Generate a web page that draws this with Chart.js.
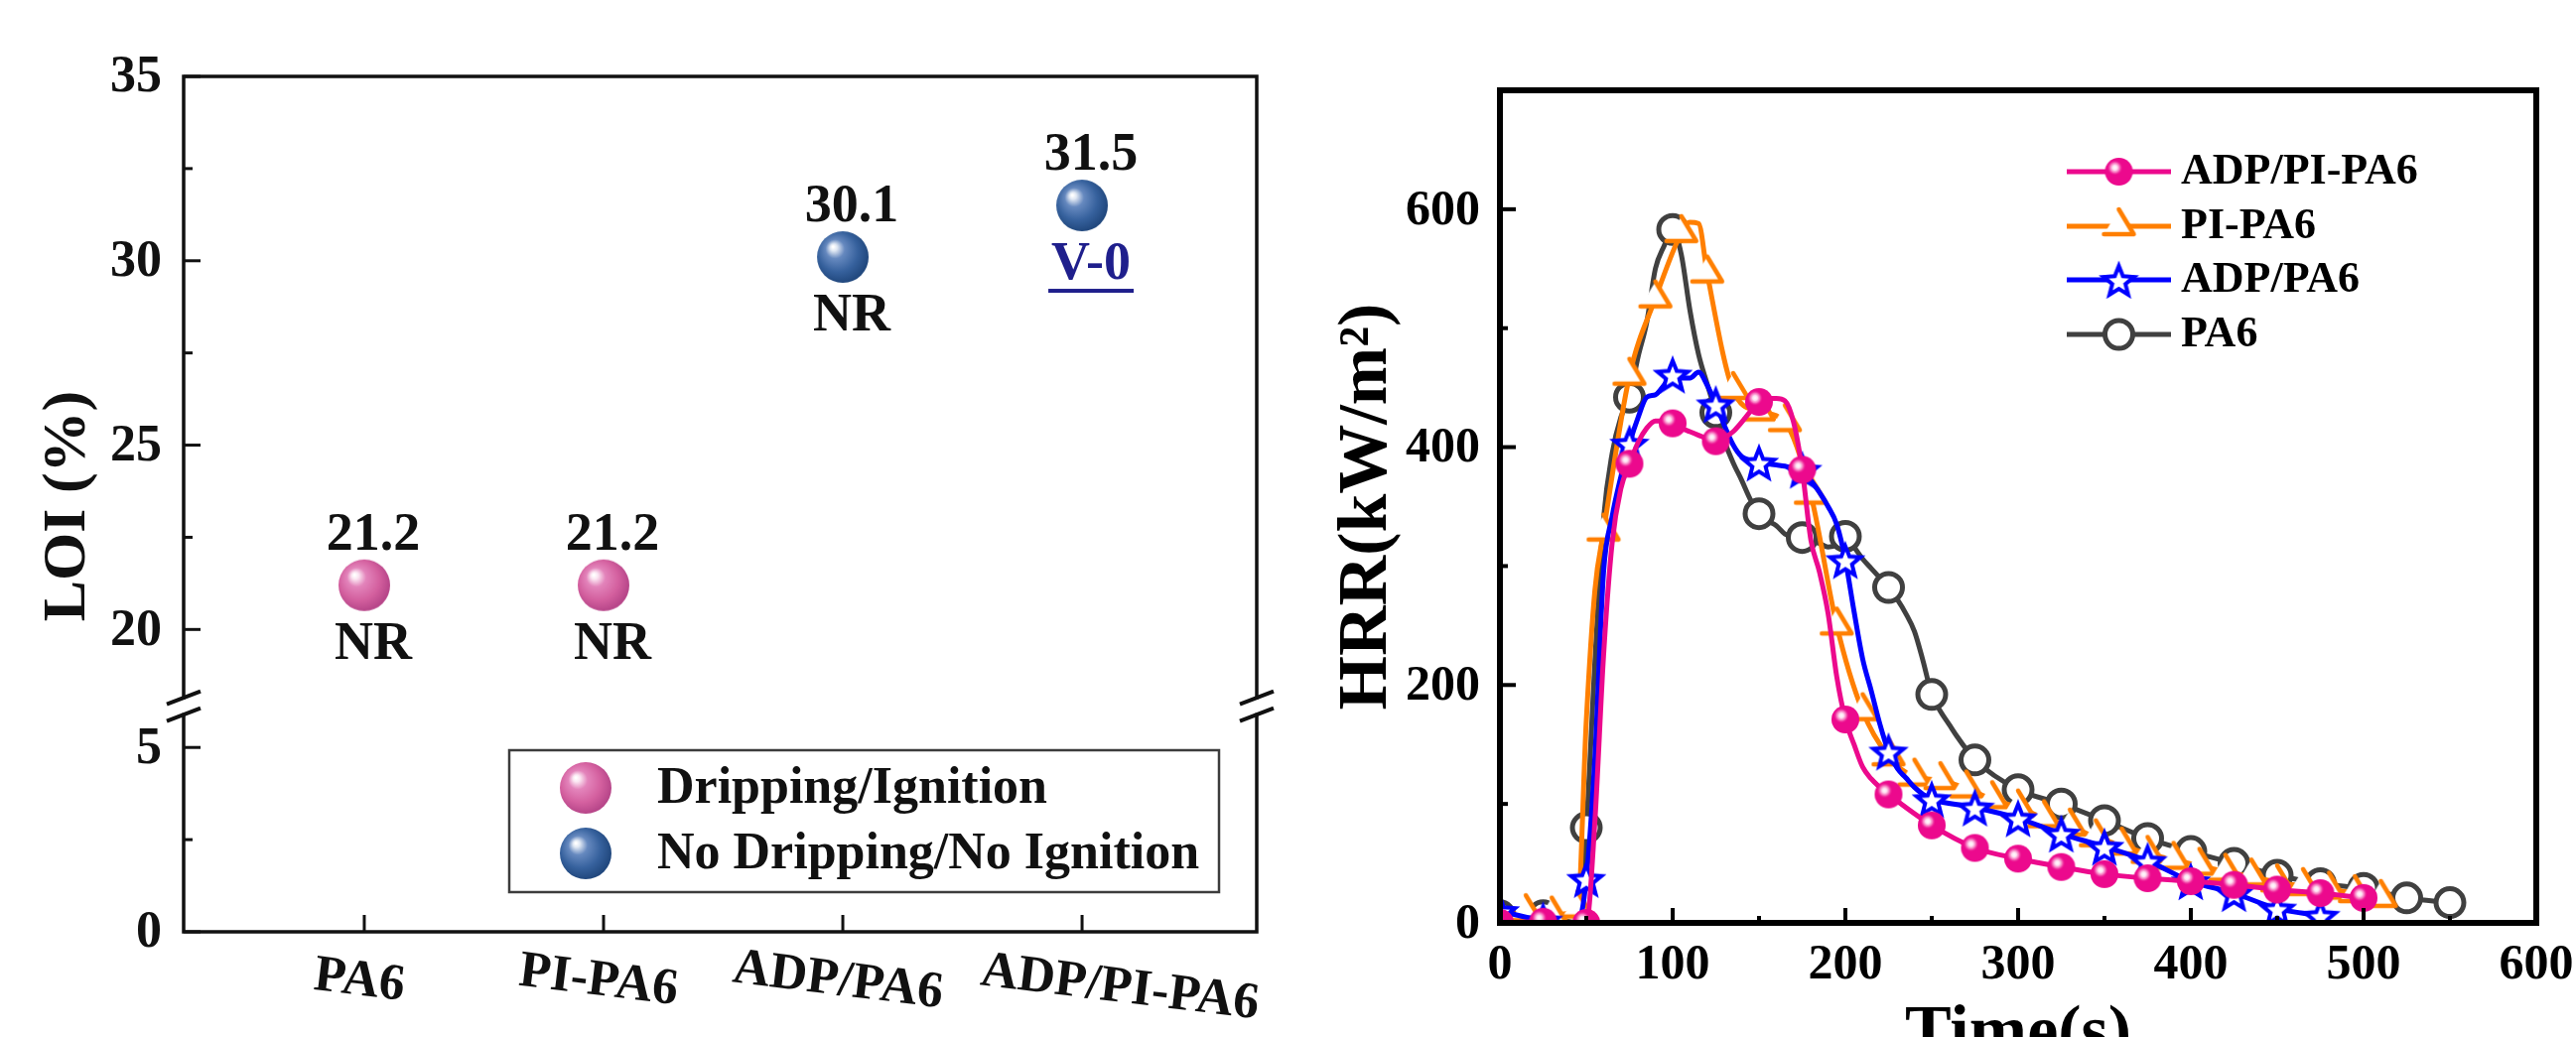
<!DOCTYPE html>
<html><head><meta charset="utf-8">
<script src="https://cdn.jsdelivr.net/npm/chart.js@4.4.1/dist/chart.umd.min.js"></script>
<style>
html,body{margin:0;padding:0;background:#fff;width:2595px;height:1045px;overflow:hidden;}
#wl{position:absolute;left:0;top:0;width:1300px;height:1045px;}
#wr{position:absolute;left:1300px;top:0;width:1295px;height:1045px;}
canvas{display:block;}
</style></head><body>
<div id="wl"><canvas id="loi" width="1300" height="1045"></canvas></div>
<div id="wr"><canvas id="hrr" width="1295" height="1045"></canvas></div>
<script>
// ---------------- LOI data ----------------
const loiCategories = ['PA6', 'PI-PA6', 'ADP/PA6', 'ADP/PI-PA6'];
const loiValues = [21.2, 21.2, 30.1, 31.5];
const loiRatings = ['NR', 'NR', 'NR', 'V-0'];
const loiDripping = [true, true, false, false];
const loiLegendLabels = ['Dripping/Ignition', 'No Dripping/No Ignition'];
const loiUpperTicks = [20, 25, 30, 35];
const loiLowerTicks = [0, 5];

// ---------------- HRR data ----------------
const hrrSeriesNames = ['ADP/PI-PA6', 'PI-PA6', 'ADP/PA6', 'PA6'];
const timeAdpPi = [0,25,45,50,55,60,65,70,75,80,85,90,95,100,105,110,115,120,125,130,135,140,145,150,155,160,165,170,175,180,185,190,195,200,205,210,215,220,225,250,275,300,325,350,375,400,425,450,475,500];
const hrrAdpPi  = [0,1,0,0,86,225,320,365,386,404,416,422,422,420,416,413,410,407,405,408,413,421,430,438,441,441,439,421,381,322,295,260,207,171,150,131,121,114,108,82,63,54,47,41,37.5,35,32,28,25,21];
const timePi = [0,15,30,45,50,55,60,75,90,105,110,115,120,135,150,165,180,195,210,225,240,255,270,285,300,315,330,345,360,375,390,405,420,435,450,465,480,495,510];
const hrrPi  = [4,9,7,12,170,280,329,460,525,580,589,588,546,448,430,421,360,250,178,140,123,120,113,104,97,88,81,72,65,58,53,48,43,39,34,31,28,25,21];
const timeAdp = [0,25,45,50,55,60,65,70,75,80,85,90,95,100,105,110,115,120,125,130,135,140,145,150,155,160,165,170,175,180,185,190,195,200,205,210,215,220,225,230,235,240,245,250,275,300,325,350,375,400,425,450,475];
const hrrAdp  = [10,2,0,37,140,295,342,375,403,425,442,444,452,461,458,458,463,452,436,418,402,392,389,387,386,385,384,382,381,372,362,350,335,305,262,222,195,167,144,130,122,114,108,104,97,88,75,64,52,35,25,12,6];
const timePa6 = [0,25,45,50,55,60,65,70,75,80,85,90,95,100,105,110,115,120,125,130,135,140,145,150,155,160,165,170,175,180,185,190,195,200,205,210,215,220,225,230,235,240,245,250,255,260,265,270,275,300,325,350,375,400,425,450,475,500,525,550];
const hrrPa6  = [6,6,0,80,220,340,395,425,442,476,505,550,569,583,562,515,478,453,429,405,387,372,356,344,338,334,327,325,324,321,319,316,318,325,316,306,298,290,282,272,260,245,220,192,178,167,156,146,137,112,100,86,71,60,50,40,33,29,21,17];
const hrrXTicks = [0, 100, 200, 300, 400, 500, 600];
const hrrYTicks = [0, 200, 400, 600];

// ---------------- helpers ----------------
const FONT = '"Liberation Serif","Times New Roman",serif';
const f = s => 'bold ' + s + 'px ' + FONT;
function seg(ctx, x1, y1, x2, y2) { ctx.beginPath(); ctx.moveTo(x1, y1); ctx.lineTo(x2, y2); ctx.stroke(); }
function makeCanvas(w, h, draw) { const c = document.createElement('canvas'); c.width = w; c.height = h; draw(c.getContext('2d'), w / 2, h / 2); return c; }
function drawBigSphere(ctx, cx, cy, r, stops) {
  const g = ctx.createRadialGradient(cx - r * 0.38, cy - r * 0.4, r * 0.03, cx - r * 0.12, cy - r * 0.12, r * 1.1);
  stops.forEach(s => g.addColorStop(s[0], s[1]));
  ctx.beginPath(); ctx.arc(cx, cy, r, 0, Math.PI * 2); ctx.fillStyle = g; ctx.fill();
}
const pinkStops = [[0, '#ffffff'], [0.1, '#fbe6f2'], [0.32, '#e384bb'], [0.7, '#d4609f'], [1, '#b8478a']];
const blueStops = [[0, '#ffffff'], [0.1, '#dfe7f3'], [0.32, '#6689bf'], [0.7, '#36619d'], [1, '#22497f']];
const bigPink = makeCanvas(58, 58, (c, x, y) => drawBigSphere(c, x, y, 26, pinkStops));
const bigBlue = makeCanvas(58, 58, (c, x, y) => drawBigSphere(c, x, y, 26, blueStops));

const pinkMarker = makeCanvas(34, 34, (ctx, cx, cy) => {
  ctx.beginPath(); ctx.arc(cx, cy, 14, 0, 2 * Math.PI); ctx.fillStyle = '#ec098d'; ctx.fill();
  const g = ctx.createRadialGradient(cx - 4, cy - 4, 0, cx - 4, cy - 4, 8);
  g.addColorStop(0, 'rgba(255,255,255,1)'); g.addColorStop(0.3, 'rgba(255,235,246,0.95)');
  g.addColorStop(0.6, 'rgba(250,150,205,0.75)'); g.addColorStop(1, 'rgba(236,9,141,0)');
  ctx.beginPath(); ctx.arc(cx - 4, cy - 4, 8, 0, 2 * Math.PI); ctx.fillStyle = g; ctx.fill();
});
const orangeMarker = makeCanvas(42, 50, (ctx, cx, cy) => {
  ctx.beginPath(); ctx.moveTo(cx, cy - 17); ctx.lineTo(cx + 15, cy + 8); ctx.lineTo(cx - 15, cy + 8); ctx.closePath();
  ctx.fillStyle = '#fff'; ctx.fill();
  ctx.beginPath(); ctx.moveTo(cx, cy - 17); ctx.lineTo(cx + 15, cy + 8); ctx.lineTo(cx - 15, cy + 8);
  ctx.strokeStyle = '#ff7f00'; ctx.lineWidth = 4.5; ctx.lineCap = 'round'; ctx.lineJoin = 'round'; ctx.stroke();
});
const starMarker = makeCanvas(42, 42, (ctx, cx, cy) => {
  const R = 16, r = 7; ctx.beginPath();
  for (let i = 0; i < 10; i++) { const a = -Math.PI / 2 + i * Math.PI / 5; const rad = i % 2 === 0 ? R : r; ctx.lineTo(cx + rad * Math.cos(a), cy + 2 + rad * Math.sin(a)); }
  ctx.closePath(); ctx.fillStyle = '#fff'; ctx.fill(); ctx.strokeStyle = '#0000ff'; ctx.lineWidth = 4; ctx.lineJoin = 'miter'; ctx.stroke();
});

// ---------------- LOI chart ----------------
const loiDecor = {
  id: 'loiDecor',
  afterDraw(chart) {
    const ctx = chart.ctx, ca = chart.chartArea, xs = chart.scales.x, yh = chart.scales.yHigh, yl = chart.scales.yLow;
    ctx.save();
    ctx.strokeStyle = '#111'; ctx.lineWidth = 3.5; ctx.lineCap = 'butt';
    ctx.strokeRect(ca.left, ca.top, ca.right - ca.left, ca.bottom - ca.top);
    // y ticks
    ctx.lineWidth = 3;
    [[yh, loiUpperTicks], [yl, loiLowerTicks]].forEach(([sc, ticks]) => {
      ticks.forEach((v, k) => {
        const py = sc.getPixelForValue(v); seg(ctx, ca.left, py, ca.left + 17, py);
        if (k < ticks.length - 1) { const my = sc.getPixelForValue((v + ticks[k + 1]) / 2); seg(ctx, ca.left, my, ca.left + 9, my); }
      });
    });
    // x ticks
    loiCategories.forEach((c, i) => { const px = xs.getPixelForValue(i); seg(ctx, px, ca.bottom, px, ca.bottom - 17); });
    // axis break (junction between the two stacked y scales)
    const jy = Math.max(yh.bottom, yl.top) + 3;
    [ca.left, ca.right].forEach(ax => {
      ctx.fillStyle = '#fff'; ctx.fillRect(ax - 4, jy - 7, 8, 14);
      ctx.lineWidth = 4; ctx.strokeStyle = '#111';
      seg(ctx, ax - 17, jy - 8.5 + 6.5, ax + 17, jy - 8.5 - 6.5);
      seg(ctx, ax - 17, jy + 8.5 + 6.5, ax + 17, jy + 8.5 - 6.5);
    });
    // y tick labels
    ctx.fillStyle = '#111'; ctx.font = f(52); ctx.textAlign = 'right'; ctx.textBaseline = 'middle';
    loiUpperTicks.forEach(v => ctx.fillText(String(v), ca.left - 22, yh.getPixelForValue(v) + 2));
    loiLowerTicks.forEach(v => ctx.fillText(String(v), ca.left - 22, yl.getPixelForValue(v) + 2));
    // category labels (rotated)
    ctx.textAlign = 'center';
    loiCategories.forEach((lab, i) => {
      const last = i === loiCategories.length - 1;
      const px = xs.getPixelForValue(i) + (last ? 38 : -5);
      ctx.save(); ctx.translate(px, ca.bottom + (last ? 57 : 50)); ctx.rotate(7 * Math.PI / 180);
      ctx.fillText(lab, 0, 0); ctx.restore();
    });
    // y title
    ctx.save(); ctx.translate(69, (ca.top + ca.bottom) / 2 + 2); ctx.rotate(-Math.PI / 2);
    ctx.font = f(62); ctx.textAlign = 'center'; ctx.fillText('LOI (%)', 0, 0); ctx.restore();
    // annotations
    ctx.font = f(54); ctx.textAlign = 'center'; ctx.textBaseline = 'middle';
    loiCategories.forEach((c, i) => {
      const px = xs.getPixelForValue(i) + 9, py = yh.getPixelForValue(loiValues[i]);
      ctx.fillStyle = '#111';
      ctx.fillText(loiValues[i].toFixed(1), px, py - 50);
      const special = loiRatings[i] !== 'NR';
      ctx.fillStyle = special ? '#1f1f8c' : '#111';
      ctx.fillText(loiRatings[i], px, py + 60);
      if (special) { const w = ctx.measureText(loiRatings[i]).width; ctx.fillRect(px - w / 2 - 3, py + 60 + 24, w + 6, 4); }
    });
    // legend box
    ctx.strokeStyle = '#3c3c3c'; ctx.lineWidth = 2.5;
    ctx.strokeRect(513, 756, 715, 143);
    drawBigSphere(ctx, 590, 794, 26, pinkStops);
    drawBigSphere(ctx, 590, 860, 26, blueStops);
    ctx.fillStyle = '#111'; ctx.font = f(52); ctx.textAlign = 'left'; ctx.textBaseline = 'middle';
    ctx.fillText(loiLegendLabels[0], 662, 796);
    ctx.fillText(loiLegendLabels[1], 662, 862);
    ctx.restore();
  }
};

const loiPoints = loiCategories.map((c, i) => ({ x: i, y: loiValues[i] }));
new Chart(document.getElementById('loi'), {
  type: 'scatter',
  data: {
    datasets: [
      { label: loiLegendLabels[0], data: loiPoints.filter((p, i) => loiDripping[i]), pointStyle: bigPink, pointRadius: 26, xAxisID: 'x', yAxisID: 'yHigh' },
      { label: loiLegendLabels[1], data: loiPoints.filter((p, i) => !loiDripping[i]), pointStyle: bigBlue, pointRadius: 26, xAxisID: 'x', yAxisID: 'yHigh' }
    ]
  },
  options: {
    responsive: false, animation: false, devicePixelRatio: 1, events: [],
    layout: { padding: { left: 185, right: 34, top: 77, bottom: 106 } },
    plugins: { legend: { display: false }, tooltip: { enabled: false } },
    scales: {
      x: { type: 'linear', position: 'bottom', min: -0.755, max: 3.73, ticks: { display: false }, grid: { display: false, drawTicks: false }, border: { display: false } },
      yLow: { type: 'linear', position: 'left', stack: 'loi', stackWeight: 6.2, min: 0, max: 6.2, ticks: { display: false }, grid: { display: false, drawTicks: false }, border: { display: false } },
      yHigh: { type: 'linear', position: 'left', stack: 'loi', stackWeight: 17, min: 18, max: 35, ticks: { display: false }, grid: { display: false, drawTicks: false }, border: { display: false } }
    }
  },
  plugins: [loiDecor]
});

// ---------------- HRR chart ----------------
const seriesStyle = {
  'ADP/PI-PA6': { color: '#ec098d', marker: pinkMarker, every: 25, order: 0, t: timeAdpPi, v: hrrAdpPi },
  'PI-PA6': { color: '#ff7f00', marker: orangeMarker, every: 15, order: 2, t: timePi, v: hrrPi },
  'ADP/PA6': { color: '#0000ff', marker: starMarker, every: 25, order: 1, t: timeAdp, v: hrrAdp },
  'PA6': { color: '#404040', marker: 'circle', every: 25, order: 3, t: timePa6, v: hrrPa6 }
};
const zip = (xs, ys) => xs.map((x, i) => ({ x: x, y: ys[i] }));

const hrrDecor = {
  id: 'hrrDecor',
  afterDraw(chart) {
    const ctx = chart.ctx, ca = chart.chartArea, xs = chart.scales.x, ys = chart.scales.y;
    ctx.save();
    ctx.strokeStyle = '#000'; ctx.lineWidth = 4; ctx.lineCap = 'butt';
    hrrXTicks.forEach((v, k) => {
      const px = xs.getPixelForValue(v); seg(ctx, px, ca.bottom, px, ca.bottom - 15);
      if (k < hrrXTicks.length - 1) { const mx = xs.getPixelForValue((v + hrrXTicks[k + 1]) / 2); seg(ctx, mx, ca.bottom, mx, ca.bottom - 7); }
    });
    hrrYTicks.forEach((v, k) => {
      const py = ys.getPixelForValue(v); seg(ctx, ca.left, py, ca.left + 16, py);
      const nv = k < hrrYTicks.length - 1 ? hrrYTicks[k + 1] : v + 200;
      const mv = (v + nv) / 2; if (mv < ys.max) { const my = ys.getPixelForValue(mv); seg(ctx, ca.left, my, ca.left + 8, my); }
    });
    ctx.lineWidth = 6; ctx.lineJoin = 'miter';
    ctx.strokeRect(ca.left, ca.top, ca.right - ca.left, ca.bottom - ca.top);
    ctx.fillStyle = '#000'; ctx.font = f(50); ctx.textBaseline = 'middle';
    ctx.textAlign = 'right';
    hrrYTicks.forEach(v => ctx.fillText(String(v), ca.left - 20, ys.getPixelForValue(v) + 2));
    ctx.textAlign = 'center';
    hrrXTicks.forEach(v => ctx.fillText(String(v), xs.getPixelForValue(v), ca.bottom + 43));
    ctx.save(); ctx.translate(78, (ca.top + ca.bottom) / 2); ctx.rotate(-Math.PI / 2);
    ctx.font = f(70); ctx.textAlign = 'center'; ctx.textBaseline = 'middle'; ctx.fillText('HRR(kW/m\u00B2)', 0, 0); ctx.restore();
    ctx.font = f(70); ctx.textAlign = 'center'; ctx.textBaseline = 'alphabetic';
    ctx.fillText('Time(s)', (ca.left + ca.right) / 2, 1061);
    const rows = [173, 228, 282, 337];
    hrrSeriesNames.forEach((name, i) => {
      const st = seriesStyle[name], y = rows[i];
      ctx.strokeStyle = st.color; ctx.lineWidth = 5; ctx.lineCap = 'butt';
      seg(ctx, 782, y, 887, y);
      if (st.marker === 'circle') {
        ctx.beginPath(); ctx.arc(834.5, y, 14, 0, Math.PI * 2); ctx.fillStyle = '#fff'; ctx.fill(); ctx.stroke();
      } else {
        ctx.drawImage(st.marker, 834.5 - st.marker.width / 2, y - st.marker.height / 2);
      }
      ctx.fillStyle = '#000'; ctx.font = f(44); ctx.textAlign = 'left'; ctx.textBaseline = 'middle';
      ctx.fillText(name, 897, y + 1);
    });
    ctx.restore();
  }
};

new Chart(document.getElementById('hrr'), {
  type: 'line',
  data: {
    datasets: hrrSeriesNames.map(name => {
      const st = seriesStyle[name];
      return {
        label: name, data: zip(st.t, st.v), order: st.order,
        borderColor: st.color, borderWidth: 5, fill: false,
        cubicInterpolationMode: 'monotone', borderJoinStyle: 'round', borderCapStyle: 'round',
        pointStyle: st.marker,
        pointRadius: c => (c.raw && c.raw.x % st.every === 0) ? 14 : 0,
        pointBorderWidth: st.marker === 'circle' ? 5 : 0,
        pointBorderColor: st.color, pointBackgroundColor: '#fff'
      };
    })
  },
  options: {
    responsive: false, animation: false, devicePixelRatio: 1, events: [],
    layout: { padding: { left: 211, right: 40, top: 91, bottom: 115 } },
    plugins: { legend: { display: false }, tooltip: { enabled: false } },
    scales: {
      x: { type: 'linear', min: 0, max: 600, ticks: { display: false }, grid: { display: false, drawTicks: false }, border: { display: false } },
      y: { type: 'linear', min: 0, max: 700, ticks: { display: false }, grid: { display: false, drawTicks: false }, border: { display: false } }
    }
  },
  plugins: [hrrDecor]
});
</script>
</body></html>
